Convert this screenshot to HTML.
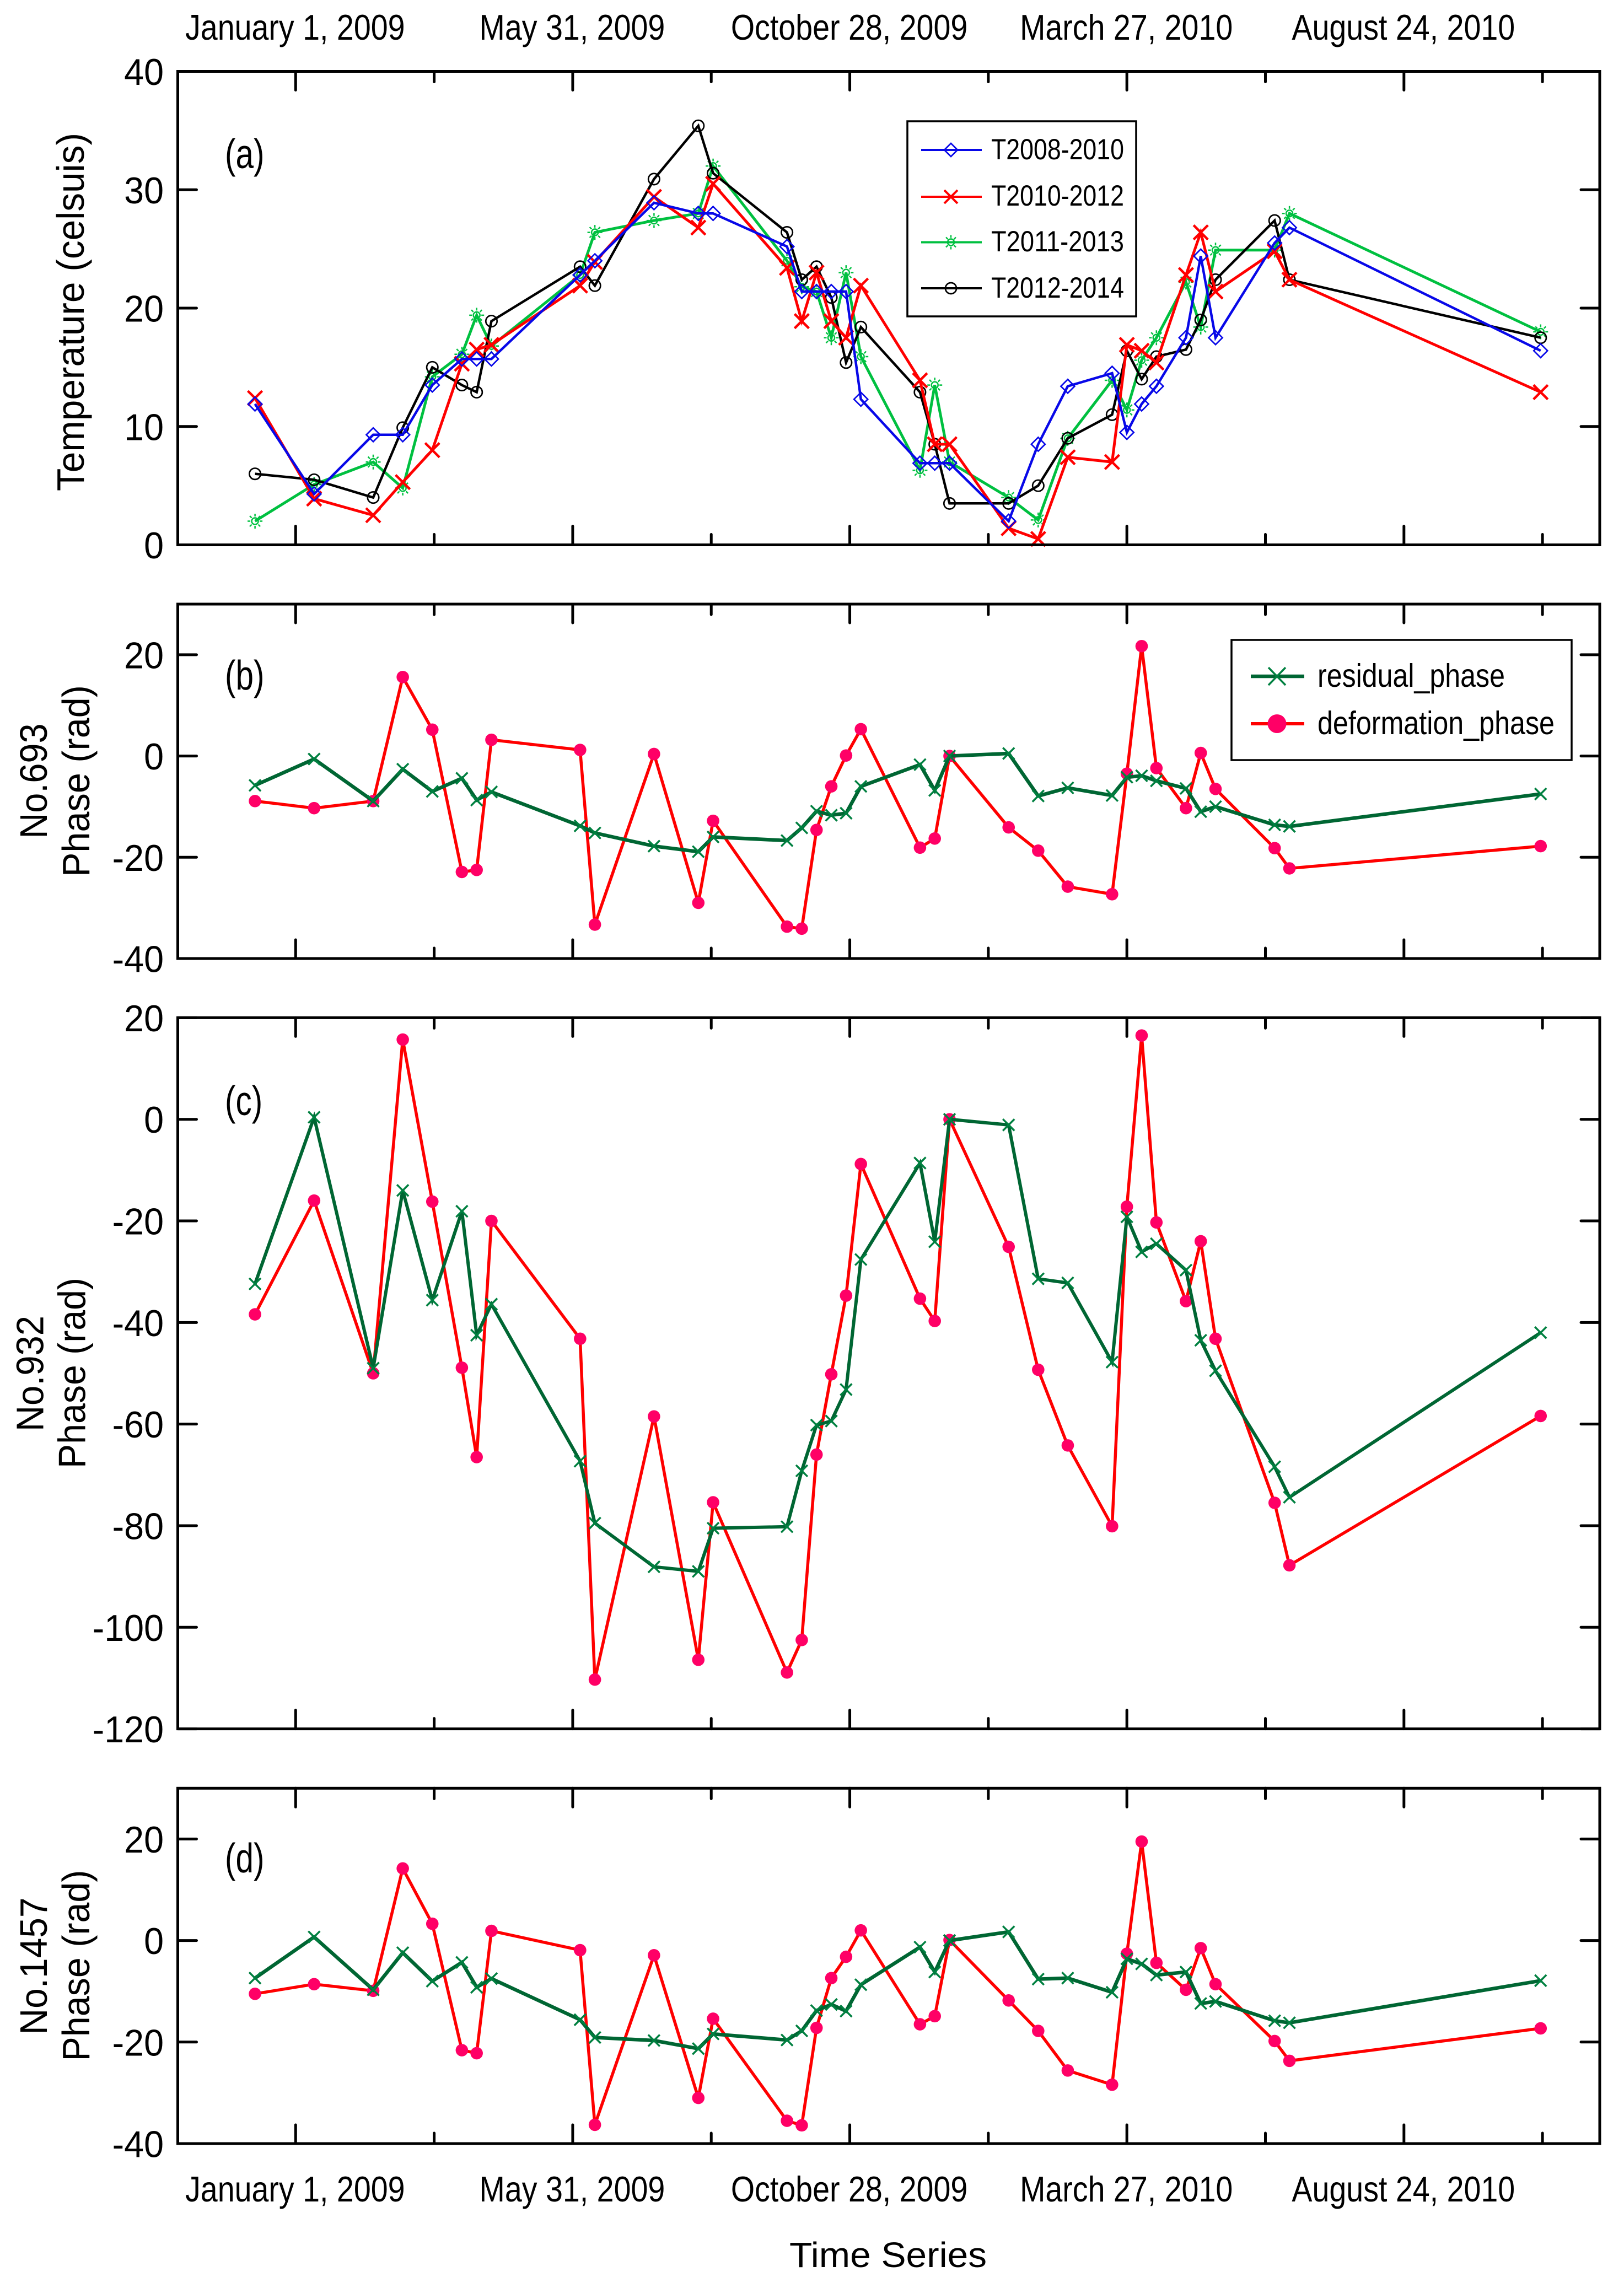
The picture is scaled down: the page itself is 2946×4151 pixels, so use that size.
<!DOCTYPE html>
<html lang="en">
<head>
<meta charset="utf-8">
<title>Temperature and phase time series</title>
<style>
html,body{margin:0;padding:0;background:#fff}
svg{display:block}
text{font-family:"Liberation Sans",Arial,sans-serif;fill:#000}
</style>
</head>
<body>
<svg id="chart" xmlns="http://www.w3.org/2000/svg" width="2946" height="4151" viewBox="0 0 2946 4151">
  <rect x="0" y="0" width="2946" height="4151" fill="#fff"/>
  <g id="panels"></g>

  <g font-size="75">
    <text transform="translate(408,305) scale(.78,1)">(a)</text>
    <text transform="translate(408,1251) scale(.78,1)">(b)</text>
    <text transform="translate(408,2023) scale(.78,1)">(c)</text>
    <text transform="translate(408,3397) scale(.78,1)">(d)</text>
  </g>

  <g text-anchor="middle">
    <text font-size="70" textLength="650" lengthAdjust="spacingAndGlyphs" transform="translate(152,566) rotate(-90)">Temperature (celsuis)</text>
    <text font-size="70" textLength="209" lengthAdjust="spacingAndGlyphs" transform="translate(85,1417) rotate(-90)">No.693</text>
    <text font-size="70" textLength="348" lengthAdjust="spacingAndGlyphs" transform="translate(162,1417) rotate(-90)">Phase (rad)</text>
    <text font-size="70" textLength="210" lengthAdjust="spacingAndGlyphs" transform="translate(78.500,2492) rotate(-90)">No.932</text>
    <text font-size="70" textLength="346" lengthAdjust="spacingAndGlyphs" transform="translate(154.500,2491) rotate(-90)">Phase (rad)</text>
    <text font-size="70" textLength="249" lengthAdjust="spacingAndGlyphs" transform="translate(85,3567) rotate(-90)">No.1457</text>
    <text font-size="70" textLength="347" lengthAdjust="spacingAndGlyphs" transform="translate(162,3566) rotate(-90)">Phase (rad)</text>
  </g>

  <text x="1432" y="4113" font-size="64" textLength="358" lengthAdjust="spacingAndGlyphs">Time Series</text>

  <g>
    <rect x="1646" y="220" width="415" height="354" fill="#fff" stroke="#000" stroke-width="3.500"/>
    <g>
      <line x1="1671" x2="1781" y1="272" y2="272" stroke="#0808e8" stroke-width="4"/>
      <polygon points="1725,260 1737,272 1725,284 1713,272" fill="none" stroke="#0808e8" stroke-width="2.700"/>
      <text x="1798" y="289" font-size="53" textLength="241" lengthAdjust="spacingAndGlyphs">T2008-2010</text>
    </g>
    <g>
      <line x1="1671" x2="1781" y1="357" y2="357" stroke="#ff0000" stroke-width="4"/>
      <path d="M1713 345L1737 369M1737 345L1713 369" fill="none" stroke="#ff0000" stroke-width="4"/>
      <text x="1798" y="373" font-size="53" textLength="241" lengthAdjust="spacingAndGlyphs">T2010-2012</text>
    </g>
    <g>
      <line x1="1671" x2="1781" y1="439.500" y2="439.500" stroke="#00c040" stroke-width="4"/>
      <circle cx="1725" cy="439.500" r="6" fill="none" stroke="#00c040" stroke-width="2.500"/>
      <path d="M1712 439.500H1717M1733 439.500H1738M1725 426.500V431.500M1725 447.500V452.500M1716 430.500L1719.500 434M1730.500 445L1734 448.500M1734 430.500L1730.500 434M1719.500 445L1716 448.500" fill="none" stroke="#00c040" stroke-width="2.500"/>
      <text x="1798" y="456" font-size="53" textLength="241" lengthAdjust="spacingAndGlyphs">T2011-2013</text>
    </g>
    <g>
      <line x1="1671" x2="1781" y1="523" y2="523" stroke="#000" stroke-width="4"/>
      <circle cx="1725" cy="523" r="10" fill="none" stroke="#000" stroke-width="2.700"/>
      <text x="1798" y="540" font-size="53" textLength="241" lengthAdjust="spacingAndGlyphs">T2012-2014</text>
    </g>
  </g>

  <g>
    <rect x="2234" y="1161" width="617" height="218" fill="#fff" stroke="#000" stroke-width="3.500"/>
    <g>
      <line x1="2269" x2="2366" y1="1227" y2="1227" stroke="#006633" stroke-width="6.500"/>
      <path d="M2301 1211L2332 1243M2332 1211L2301 1243" fill="none" stroke="#008040" stroke-width="3.500"/>
      <text x="2390" y="1246" font-size="59" textLength="340" lengthAdjust="spacingAndGlyphs">residual_phase</text>
    </g>
    <g>
      <line x1="2269" x2="2366" y1="1313" y2="1313" stroke="#ff0000" stroke-width="6"/>
      <circle cx="2316.500" cy="1313" r="17" fill="#ff0066"/>
      <text x="2390" y="1332" font-size="59" textLength="430" lengthAdjust="spacingAndGlyphs">deformation_phase</text>
    </g>
  </g>
</svg>

<script>
// Shared time axis: days since January 1, 2009
const days = [-22,10,42,58,74,90,98,106,154,162,194,218,226,266,274,282,290,298,306,338,346,354,386,402,418,442,450,458,466,482,490,498,530,538,674];
const majorTickDays = [0,150,300,450,600];
const minorTickDays = [75,225,375,525,675];
const dateLabels = ['January 1, 2009','May 31, 2009','October 28, 2009','March 27, 2010','August 24, 2010'];

// Panel (a): temperature series
const t2008to2010 = [11.9,4.3,9.3,9.3,13.5,15.7,15.7,15.7,22.8,24,28.9,28,28,25.2,21.4,21.4,21.4,21.4,12.3,6.9,6.9,6.9,2,8.5,13.4,14.5,9.5,11.9,13.4,17.5,24.4,17.5,25.5,26.8,16.4];
const t2010to2012 = [12.4,3.9,2.5,5.3,8,15.3,16.5,16.9,21.9,23.9,29.4,26.8,30.5,23.4,18.9,23,18.9,17.5,21.9,13.9,8.5,8.5,1.4,0.5,7.4,7,16.9,16.4,15.4,22.8,26.4,21.4,24.8,22.4,12.9];
const t2011to2013 = [2,5.1,7,4.8,14.2,16.1,19.4,16.8,22.8,26.4,27.4,28,32,24,21.8,21.4,17.5,23,15.9,6.3,13.5,7,4,2.1,9,13.9,11.4,15.6,17.5,22.2,18.4,24.9,24.9,28,18];
const t2012to2014 = [6,5.5,4,9.9,15,13.5,12.9,18.9,23.5,21.9,30.9,35.4,31.4,26.4,22.4,23.5,20.9,15.4,18.4,12.9,8.5,3.5,3.5,5,9,11,16.4,14,15.9,16.5,19,22.4,27.4,22.4,17.5];
const tempTicks = [0,10,20,30,40];

// Panel (b): No.693
const deformationB = [-8.9,-10.3,-8.9,15.6,5.2,-22.9,-22.5,3.2,1.2,-33.3,0.4,-29,-12.8,-33.7,-34.1,-14.6,-6,0.1,5.3,-18.1,-16.3,0,-14.1,-18.7,-25.8,-27.3,-3.5,21.7,-2.4,-10.3,0.6,-6.5,-18.2,-22.2,-17.8];
const residualB = [-5.8,-0.6,-8.9,-2.6,-7,-4.4,-8.7,-7.1,-13.8,-15.2,-17.8,-18.9,-16,-16.7,-14.2,-10.9,-11.7,-11.3,-6,-1.7,-6.8,0,0.5,-7.9,-6.3,-7.8,-4.2,-3.9,-4.9,-6.4,-11,-10,-13.6,-13.9,-7.5];
const ticksB = [-40,-20,0,20];

// Panel (c): No.932
const deformationC = [-38.4,-16,-50,15.7,-16.2,-48.9,-66.5,-20,-43.2,-110.3,-58.5,-106.4,-75.4,-108.9,-102.5,-66,-50.2,-34.7,-8.8,-35.3,-39.7,0,-25.1,-49.3,-64.2,-80.1,-17.2,16.5,-20.3,-35.8,-24,-43.2,-75.5,-87.8,-58.4];
const residualC = [-32.4,0.4,-49,-14,-35.6,-18.1,-42.5,-36.4,-67.3,-79.5,-88.1,-89,-80.5,-80.2,-69.2,-60.2,-59.4,-53.2,-27.6,-8.6,-24.1,0,-1.1,-31.4,-32.2,-47.8,-19.2,-26.1,-24.5,-29.7,-43.5,-49.5,-68.4,-74.4,-42];
const ticksC = [-120,-100,-80,-60,-40,-20,0,20];

// Panel (d): No.1457
const deformationD = [-10.5,-8.6,-9.9,14.2,3.3,-21.6,-22.2,1.9,-1.9,-36.3,-2.9,-31,-15.4,-35.5,-36.4,-17.2,-7.4,-3.2,2,-16.5,-14.9,0.1,-11.8,-17.8,-25.6,-28.4,-2.6,19.5,-4.4,-9.7,-1.5,-8.6,-19.8,-23.7,-17.3];
const residualD = [-7.4,0.7,-9.7,-2.4,-8,-4.3,-9.2,-7.5,-15.6,-19.1,-19.7,-21.3,-18.4,-19.6,-17.8,-13.8,-12.6,-13.9,-8.7,-1.3,-6.2,0,1.7,-7.6,-7.4,-10.2,-3.6,-4.6,-6.8,-6.2,-12.4,-12,-15.8,-16.2,-7.9];
const ticksD = [-40,-20,0,20];

const NS = 'http://www.w3.org/2000/svg';
const root = document.getElementById('panels');
const PLOT_LEFT = 322.5, PLOT_RIGHT = 2902;
const DAY_MIN = -63.8, DAY_MAX = 706;
const MAJOR_LEN = 34, MINOR_LEN = 19, YTICK_LEN = 34;

function xScale(day){
  return PLOT_LEFT + (day - DAY_MIN) * (PLOT_RIGHT - PLOT_LEFT) / (DAY_MAX - DAY_MIN);
}
function makeYScale(top, bottom, vMin, vMax){
  return function(v){ return bottom - (v - vMin) * (bottom - top) / (vMax - vMin); };
}
function make(tag, parent){
  const el = document.createElementNS(NS, tag);
  parent.appendChild(el);
  return el;
}
function seg(parent, x1, y1, x2, y2, color, width){
  const l = make('line', parent);
  
  
  l.setAttribute('x1', x1);
  l.setAttribute('y1', y1);
  l.setAttribute('x2', x2);
  l.setAttribute('y2', y2);
  l.setAttribute('stroke', color);
  l.setAttribute('stroke-width', width);
  l.setAttribute('stroke-linecap', 'round');
}

function drawAxes(g, top, bottom, yScale, ticks){
  const frame = make('rect', g);
  
  
  frame.setAttribute('x', PLOT_LEFT);
  frame.setAttribute('y', top);
  frame.setAttribute('width', PLOT_RIGHT - PLOT_LEFT);
  frame.setAttribute('height', bottom - top);
  frame.setAttribute('fill', 'none');
  frame.setAttribute('stroke', '#000');
  frame.setAttribute('stroke-width', 5);
  majorTickDays.forEach(function(d){
    seg(g, xScale(d), top, xScale(d), top + MAJOR_LEN, '#000', 5);
    seg(g, xScale(d), bottom, xScale(d), bottom - MAJOR_LEN, '#000', 5);
  });
  minorTickDays.forEach(function(d){
    seg(g, xScale(d), top, xScale(d), top + MINOR_LEN, '#000', 5);
    seg(g, xScale(d), bottom, xScale(d), bottom - MINOR_LEN, '#000', 5);
  });
  ticks.forEach(function(v){
    const y = yScale(v);
    seg(g, PLOT_LEFT, y, PLOT_LEFT + YTICK_LEN, y, '#000', 5);
    seg(g, PLOT_RIGHT, y, PLOT_RIGHT - YTICK_LEN, y, '#000', 5);
    const t = make('text', g);
    
    
    t.setAttribute('transform', 'translate(297,' + (y + 24.5) + ') scale(.95,1)');
    t.setAttribute('font-size', 68);
    t.setAttribute('text-anchor', 'end');
    t.textContent = String(v);
  });
}

function drawLine(g, values, yScale, color, width, name){
  const p = make('polyline', g);
  
  
  p.setAttribute('points', values.map(function(v, i){ return xScale(days[i]).toFixed(1) + ',' + yScale(v).toFixed(1); }).join(' '));
  p.setAttribute('fill', 'none');
  p.setAttribute('stroke', color);
  p.setAttribute('stroke-width', width);
  p.setAttribute('stroke-linejoin', 'miter');
}

function starPath(x, y){
  let d = 'M' + (x - 6) + ' ' + y + 'a6 6 0 1 0 12 0a6 6 0 1 0 -12 0';
  for (let k = 0; k < 8; k++) {
    const a = k * Math.PI / 4;
    const c = Math.cos(a), s = Math.sin(a);
    d += 'M' + (x + 8.5 * c).toFixed(1) + ' ' + (y + 8.5 * s).toFixed(1) + 'L' + (x + 13.5 * c).toFixed(1) + ' ' + (y + 13.5 * s).toFixed(1);
  }
  return d;
}

function drawMarker(g, kind, x, y, color, name){
  if (kind === 'dot' || kind === 'circle') {
    const c = make('circle', g);
    
    
    c.setAttribute('cx', x);
    c.setAttribute('cy', y);
    c.setAttribute('r', kind === 'dot' ? 11.3 : 10.2);
    c.setAttribute('fill', kind === 'dot' ? color : 'none');
    c.setAttribute('stroke', kind === 'dot' ? 'none' : color);
    c.setAttribute('stroke-width', 2.7);
    return;
  }
  const m = make('path', g);
  
  
  let d = '', w = 3.5;
  if (kind === 'diamond') {
    d = 'M' + x + ' ' + (y - 12.5) + 'L' + (x + 12.5) + ' ' + y + 'L' + x + ' ' + (y + 12.5) + 'L' + (x - 12.5) + ' ' + y + 'Z';
    w = 2.7;
  } else if (kind === 'bigx') {
    d = 'M' + (x - 13) + ' ' + (y - 13) + 'L' + (x + 13) + ' ' + (y + 13) + 'M' + (x + 13) + ' ' + (y - 13) + 'L' + (x - 13) + ' ' + (y + 13);
    w = 4.5;
  } else if (kind === 'x') {
    d = 'M' + (x - 10.5) + ' ' + (y - 10.5) + 'L' + (x + 10.5) + ' ' + (y + 10.5) + 'M' + (x + 10.5) + ' ' + (y - 10.5) + 'L' + (x - 10.5) + ' ' + (y + 10.5);
  } else if (kind === 'star') {
    d = starPath(x, y);
    w = 2.5;
  }
  m.setAttribute('d', d);
  m.setAttribute('fill', 'none');
  m.setAttribute('stroke', color);
  m.setAttribute('stroke-width', w);
}

function drawSeries(g, values, yScale, opt){
  const s = make('g', g);
  
  
  drawLine(s, values, yScale, opt.color, opt.width, opt.name);
  values.forEach(function(v, i){
    drawMarker(s, opt.kind, xScale(days[i]), yScale(v), opt.markerColor, opt.name);
  });
}

function drawDateLabels(baseY, groupName){
  const g = make('g', root);
  
  
  dateLabels.forEach(function(label, i){
    const t = make('text', g);
    
    
    t.setAttribute('font-size', 65);
    t.setAttribute('text-anchor', 'middle');
    t.setAttribute('transform', 'translate(' + (xScale(majorTickDays[i]) - 1) + ',' + baseY + ') scale(.855,1)');
    t.textContent = label;
  });
}

function panel(name, top, bottom, vMin, vMax, ticks, series){
  const g = make('g', root);
  
  
  const yScale = makeYScale(top, bottom, vMin, vMax);
  series.forEach(function(s){ drawSeries(g, s.values, yScale, s); });
  drawAxes(g, top, bottom, yScale, ticks);
}

const GREEN_LINE = '#006633', GREEN_MARK = '#008040', RED = '#ff0000', PINK = '#ff0066';

panel('panel-a-temperature', 129.5, 988.5, 0, 40, tempTicks, [
  {values: t2011to2013, color: '#00c040', markerColor: '#00c040', width: 5, kind: 'star', name: 't2011-2013'},
  {values: t2012to2014, color: '#000000', markerColor: '#000000', width: 4.5, kind: 'circle', name: 't2012-2014'},
  {values: t2010to2012, color: RED, markerColor: RED, width: 5, kind: 'bigx', name: 't2010-2012'},
  {values: t2008to2010, color: '#0808e8', markerColor: '#0808e8', width: 4.5, kind: 'diamond', name: 't2008-2010'}
]);
panel('panel-b-no693', 1096, 1739, -40, 30, ticksB, [
  {values: deformationB, color: RED, markerColor: PINK, width: 5.5, kind: 'dot', name: 'deformation-phase'},
  {values: residualB, color: GREEN_LINE, markerColor: GREEN_MARK, width: 6.5, kind: 'x', name: 'residual-phase'}
]);
panel('panel-c-no932', 1846.4, 3136.6, -120, 20, ticksC, [
  {values: deformationC, color: RED, markerColor: PINK, width: 5.5, kind: 'dot', name: 'deformation-phase'},
  {values: residualC, color: GREEN_LINE, markerColor: GREEN_MARK, width: 6, kind: 'x', name: 'residual-phase'}
]);
panel('panel-d-no1457', 3244.3, 3889, -40, 30, ticksD, [
  {values: deformationD, color: RED, markerColor: PINK, width: 5.5, kind: 'dot', name: 'deformation-phase'},
  {values: residualD, color: GREEN_LINE, markerColor: GREEN_MARK, width: 6.5, kind: 'x', name: 'residual-phase'}
]);

drawDateLabels(72, 'top-date-axis-labels');
drawDateLabels(3994, 'bottom-date-axis-labels');
</script>
</body>
</html>
